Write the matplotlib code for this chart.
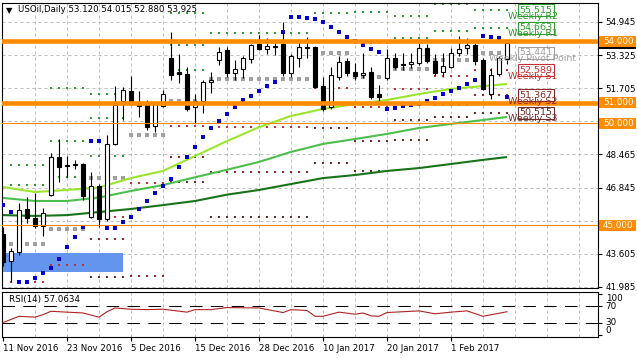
import matplotlib
matplotlib.use("Agg")
import matplotlib.pyplot as plt
from matplotlib.patches import Rectangle
import numpy as np

plt.rcParams['font.family'] = ['DejaVu Sans']

# ---------------- data ----------------
title_text = "USOil,Daily 53.120 54.015 52.880 53.925"
rsi_text = "RSI(14) 57.0634"

date_labels = ["11 Nov 2016", "23 Nov 2016", "5 Dec 2016", "15 Dec 2016",
               "28 Dec 2016", "10 Jan 2017", "20 Jan 2017", "1 Feb 2017"]
date_label_bars = [0, 8, 16, 24, 32, 40, 48, 56]

opens = [44.6, 43.25, 43.7, 45.8, 45.35, 44.98, 46.5, 48.35, 47.9, 48.0,
         48.0, 45.4, 46.9, 45.3, 49.0, 51.1, 51.55, 50.97, 50.95, 49.85,
         50.85, 53.2, 52.5, 52.4, 50.8, 51.1, 52.0, 53.1, 53.55, 52.45,
         52.65, 53.13, 53.87, 53.6, 53.78, 53.87, 52.45, 53.2, 53.65, 53.7,
         51.8, 50.8, 52.25, 53.05, 52.5, 52.35, 52.5, 51.4, 52.2, 53.2,
         52.9, 52.9, 52.95, 53.65, 53.05, 52.5, 52.75, 53.45, 53.65, 53.8,
         53.1, 51.4, 52.4, 53.12]
highs = [44.9, 43.9, 46.1, 46.4, 46.6, 45.85, 48.55, 49.2, 48.4, 48.2,
         48.05, 47.6, 47.0, 49.4, 51.8, 51.75, 52.3, 51.55, 51.15, 51.0,
         51.6, 54.45, 53.4, 52.75, 51.4, 52.1, 52.5, 53.7, 53.7, 53.1,
         53.3, 53.85, 54.3, 54.15, 54.0, 54.95, 53.4, 54.1, 54.2, 53.75,
         52.25, 52.75, 53.3, 53.2, 52.95, 53.45, 52.75, 51.85, 53.6, 53.45,
         53.45, 53.45, 53.9, 53.85, 53.4, 53.45, 53.65, 54.25, 54.15, 53.9,
         53.2, 52.7, 53.3, 54.015]
lows = [43.0, 42.23, 43.55, 45.1, 44.85, 44.5, 46.45, 47.1, 47.35, 47.75,
        46.25, 45.35, 44.9, 45.2, 48.95, 50.15, 50.9, 50.3, 49.65, 49.55,
        50.8, 52.1, 51.95, 50.6, 50.0, 50.5, 51.45, 52.85, 52.25, 52.1,
        52.2, 52.95, 53.55, 53.4, 53.35, 52.3, 52.25, 52.75, 53.2, 51.7,
        50.6, 50.7, 52.1, 52.3, 52.1, 52.2, 51.2, 51.1, 52.1, 52.65,
        52.6, 52.7, 52.85, 52.95, 52.35, 52.25, 52.7, 53.3, 53.4, 52.85,
        51.6, 51.2, 52.3, 52.88]
closes = [43.2, 43.75, 45.75, 45.35, 44.95, 45.6, 48.35, 47.85, 47.95, 47.95,
          46.45, 46.9, 45.3, 49.0, 50.9, 51.6, 50.95, 50.85, 49.8, 50.95,
          51.4, 52.35, 52.4, 50.7, 51.1, 52.0, 52.1, 53.5, 52.45, 52.65,
          53.2, 53.8, 53.6, 53.78, 53.72, 52.45, 53.3, 53.7, 53.7, 51.75,
          50.7, 52.35, 53.0, 52.45, 52.3, 52.45, 51.3, 51.3, 53.2, 52.75,
          52.85, 53.0, 53.65, 53.05, 52.45, 52.8, 53.45, 53.6, 53.8, 53.05,
          51.65, 52.35, 53.2, 53.925]

# moving averages (read at every 4th bar)
ma_bars = [0, 4, 8, 12, 16, 20, 24, 28, 32, 36, 40, 44, 48, 52, 56, 60, 63]
ma_fast = [46.87, 46.63, 46.73, 46.85, 47.31, 47.66, 48.39, 49.12, 49.8, 50.35,
           50.69, 50.93, 51.13, 51.42, 51.67, 51.81, 51.91]
ma_mid = [46.34, 46.19, 46.19, 46.36, 46.68, 46.97, 47.35, 47.72, 48.1, 48.59,
          48.98, 49.22, 49.47, 49.76, 49.96, 50.15, 50.3]
ma_slow = [45.5, 45.46, 45.5, 45.65, 45.8, 45.99, 46.19, 46.5, 46.73, 47.02,
           47.31, 47.46, 47.66, 47.8, 48.0, 48.2, 48.34]

# parabolic SAR, one dot per bar
sar = [45.99, 45.65, 42.23, 42.23, 42.43, 42.67, 42.91, 43.35, 43.94, 44.43,
       44.92, 49.12, 49.12, 44.87, 44.87, 45.16, 45.41, 45.8, 46.19, 46.58,
       46.92, 47.27, 47.85, 48.34, 48.83, 49.32, 49.76, 50.1, 50.45, 50.79,
       51.13, 51.33, 51.57, 51.81, 52.01, 54.45, 55.19, 55.19, 55.14, 55.09,
       54.94, 54.7, 54.45, 54.21, 54.01, 53.82, 53.62, 53.48, 50.69, 50.74,
       50.84, 50.88, 50.93, 51.08, 51.23, 51.42, 51.57, 51.72, 51.91, 52.11,
       54.26, 54.21, 54.16, 51.28]

# weekly pivot levels, per week (first bar, last bar)
week_first = [1, 6, 11, 16, 21, 26, 31, 35, 39, 44, 49, 54, 59]
week_last = [5, 10, 15, 20, 25, 30, 34, 38, 43, 48, 53, 58, 63]
nan = float('nan')
wk_r3 = [nan, 51.72, 51.40, nan, 55.36, nan, nan, nan, nan, nan, nan, nan, nan]
wk_r2 = [47.95, 49.12, 50.25, nan, 53.83, nan, nan, nan, nan, 55.42, 55.25, 55.84, 55.515]
wk_r1 = [46.97, 47.36, 48.39, 53.96, 52.61, 54.40, 54.40, 54.40, 55.39, 53.93, 54.16, 54.50, 54.663]
wk_pp = [44.09, 44.82, 47.31, 49.42, 51.08, 52.15, 52.15, 52.15, 53.43, 52.27, 52.63, 53.10, 53.441]
wk_s1 = [42.23, 43.06, 45.40, 47.06, 49.86, 49.80, 49.80, 49.80, 51.72, 50.79, 51.66, 52.30, 52.589]
wk_s2 = [nan, nan, 44.35, 42.53, 48.33, 47.60, 47.60, 47.60, 49.76, 49.12, 50.13, 50.90, 51.367]
wk_s3 = [nan, nan, 42.45, nan, 47.11, 45.40, 45.40, 45.40, 48.05, 47.64, 49.16, 50.30, 50.515]

label_names = ["Weekly R2", "Weekly R1", "Weekly Pivot Point", "Weekly S1", "Weekly S2", "Weekly S3"]
label_values = [55.515, 54.663, 53.441, 52.589, 51.367, 50.515]

# horizontal lines
hline_prices = [54.0, 51.0, 50.0, 45.0]
hline_thick = [True, True, False, False]
last_price = 53.925

# demand zone rectangle
zone_bars = (-1.0, 14.96)
zone_prices = (42.72, 43.65)

# RSI
rsi_bars = [0, 2, 4, 5, 6, 8, 10, 12, 13, 14, 16, 18, 20, 23, 24, 26, 28, 32, 35, 36,
            38, 39, 40, 42, 44, 45, 46, 47, 48, 52, 54, 56, 58, 60, 63]
rsi_vals = [31, 46, 44, 50, 58, 56, 54, 44, 57, 66, 63, 62, 63, 56, 62, 62, 67, 66, 55, 62,
            60, 46, 46, 56, 51, 54, 47, 46, 55, 59, 52, 56, 59, 46, 57]
rsi_levels = [70, 30]

price_ticks = [41.985, 43.605, 45.225, 46.845, 48.465, 50.085, 51.705, 53.325, 54.945]
hidden_ticks = [45.225, 50.085]   # covered by the orange level labels

# ---------------- styles ----------------
W, H = 637, 358
ORANGE = '#FF8C00'
GRID = '#BDBDBD'
col_r = '#2E9E2E'
col_pp = '#A0A0A0'
col_s1 = '#C43030'
col_s2 = '#8E2727'
col_s3 = '#6E2B2B'
label_colors = [col_r, col_r, col_pp, col_s1, col_s2, col_s3]
FS = 6.3

fig = plt.figure(figsize=(W / 100, H / 100), dpi=100)
left_px, right_px = 2.3, 598.0
main_top, main_bot = 2.7, 288.3
rsi_top, rsi_bot = 291.7, 336.7
ax = fig.add_axes([left_px / W, 1 - main_bot / H, (right_px - left_px) / W, (main_bot - main_top) / H])
axr = fig.add_axes([left_px / W, 1 - rsi_bot / H, (right_px - left_px) / W, (rsi_bot - rsi_top) / H])

n = len(opens)
x0_bar = (left_px - 3) / 8.0
x1_bar = (right_px - 3) / 8.0
for a in (ax, axr):
    a.set_xlim(x0_bar, x1_bar)
    for s in a.spines.values():
        s.set_linewidth(0.8)
        s.set_color('black')
    a.grid(False)
    for xv in np.arange(4, x1_bar, 4):
        a.axvline(xv, color=GRID, lw=0.72, ls=(0, (3, 3)), zorder=0.5)

ax.set_ylim(41.921, 55.887)

# horizontal grid
for p in price_ticks:
    ax.axhline(p, color=GRID, lw=0.72, ls=(0, (3, 3)), zorder=0.5)

# zone
ax.add_patch(Rectangle((zone_bars[0], zone_prices[0]), zone_bars[1] - zone_bars[0],
                       zone_prices[1] - zone_prices[0], fc='#6495ED', ec='none', zorder=1))

# weekly pivot dots
levels_all = [(wk_r3, col_r, 2.2), (wk_r2, col_r, 2.2), (wk_r1, col_r, 2.2),
              (wk_pp, col_pp, 6.0), (wk_s1, col_s1, 2.2), (wk_s2, col_s2, 2.2),
              (wk_s3, col_s3, 2.2)]
for vals, col, sz in levels_all:
    for wf, wl, v in zip(week_first, week_last, vals):
        if np.isnan(v):
            continue
        xs = np.arange(wf, wl + 1)
        ax.scatter(xs, np.full(len(xs), v), marker='s', s=sz, color=col,
                   linewidths=0, zorder=2)

# moving averages
ax.plot(ma_bars, ma_slow, color='#187418', lw=1.5, zorder=2.5, solid_capstyle='butt')
ax.plot(ma_bars, ma_mid, color='#4CBF4C', lw=1.5, zorder=2.5, solid_capstyle='butt')
ax.plot(ma_bars, ma_fast, color='#9BE62C', lw=1.5, zorder=2.5, solid_capstyle='butt')

# candles
idx = np.arange(n)
o = np.array(opens); c = np.array(closes); hi = np.array(highs); lo = np.array(lows)
ax.vlines(idx, lo, hi, color='black', lw=0.8, zorder=3)
bull = c >= o
body = np.maximum(np.abs(c - o), 0.03)
ax.bar(idx, body, bottom=np.minimum(o, c), width=0.56,
       color=np.where(bull, 'white', 'black'), edgecolor='black', linewidth=0.8, zorder=3.2)

# SAR
ax.scatter(idx, sar, marker='s', s=5.0, color='#0000C8', linewidths=0, zorder=3.5)

# horizontal orange lines
for p, thick in zip(hline_prices, hline_thick):
    ax.axhline(p, color=ORANGE, lw=3.3 if thick else 0.8, zorder=4)

# y axis on right
ax.yaxis.tick_right()
ax.set_yticks(price_ticks)
ax.set_yticklabels(["" if p in hidden_ticks else f"{p:.3f}" for p in price_ticks])
ax.tick_params(axis='y', length=3, width=0.8, pad=2.5, labelsize=FS, colors='black')
ax.set_xticks([])
ax.tick_params(axis='x', which='both', length=0)

ytr = ax.get_yaxis_transform()
pxu = 1.0 / (right_px - left_px)   # one pixel in axes-x units
ppu = (55.887 - 41.921) / (main_bot - main_top)  # price per pixel

# last price box (black) then orange labels
ax.add_patch(Rectangle((1 + 1 * pxu, last_price - 6 * ppu), 37 * pxu, 12 * ppu,
                       transform=ytr, fc='black', ec='none', clip_on=False, zorder=8))
for p in hline_prices:
    ax.add_patch(Rectangle((1 + 1 * pxu, p - 5.5 * ppu), 37 * pxu, 11 * ppu,
                           transform=ytr, fc=ORANGE, ec='none', clip_on=False, zorder=9))
    ax.text(1 + 5 * pxu, p, f"{p:.3f}", transform=ytr, ha='left', va='center',
            fontsize=FS, color='white', clip_on=False, zorder=10)

# weekly labels
box_x0 = (518 - 3) / 8.0
box_w = 36 / 8.0
for name, v, col in zip(label_names, label_values, label_colors):
    ax.add_patch(Rectangle((box_x0, v - 6 * ppu), box_w, 12 * ppu, fc='white', ec=col,
                           lw=0.8, zorder=6))
    ax.text(box_x0 + box_w / 2, v, f"{v:.3f}", ha='center', va='center', fontsize=6.8,
            color=col, zorder=6.5)
    ax.text((533 - 3) / 8.0, v - 1.5 * ppu, name, ha='center', va='top', fontsize=6.8,
            color=col, zorder=7)

# header
fig.text(6 / W, 1 - 10.5 / H, "\u25bc", fontsize=6, va='center', ha='left', color='black')
fig.text(18 / W, 1 - 10 / H, title_text, fontsize=6.2, va='center', ha='left', color='black')

# RSI panel
axr.set_ylim(-2.9, 105)
axr.plot(rsi_bars, rsi_vals, color='#B22222', lw=0.8, zorder=3)
for lv in rsi_levels:
    axr.axhline(lv, color='black', lw=0.75, ls=(0, (12, 8)), zorder=2)
axr.yaxis.tick_right()
axr.set_yticks([100, 70, 30, 0])
axr.set_yticklabels(["100", "70", "30", "0"])
axr.tick_params(axis='y', length=3, width=0.8, pad=2.5, labelsize=FS)
for lab, va in zip(axr.get_yticklabels(), ['top', 'center', 'center', 'bottom']):
    lab.set_va(va)
axr.set_xticks(date_label_bars)
axr.set_xticklabels(date_labels)
axr.tick_params(axis='x', length=3, width=0.8, pad=2, labelsize=6.2)
for lab in axr.get_xticklabels():
    lab.set_ha('left')
axr.text(7 / (right_px - left_px), 0.82, rsi_text, transform=axr.transAxes,
         fontsize=FS, va='center', ha='left')

fig.savefig("out.png", dpi=100, facecolor='white')
